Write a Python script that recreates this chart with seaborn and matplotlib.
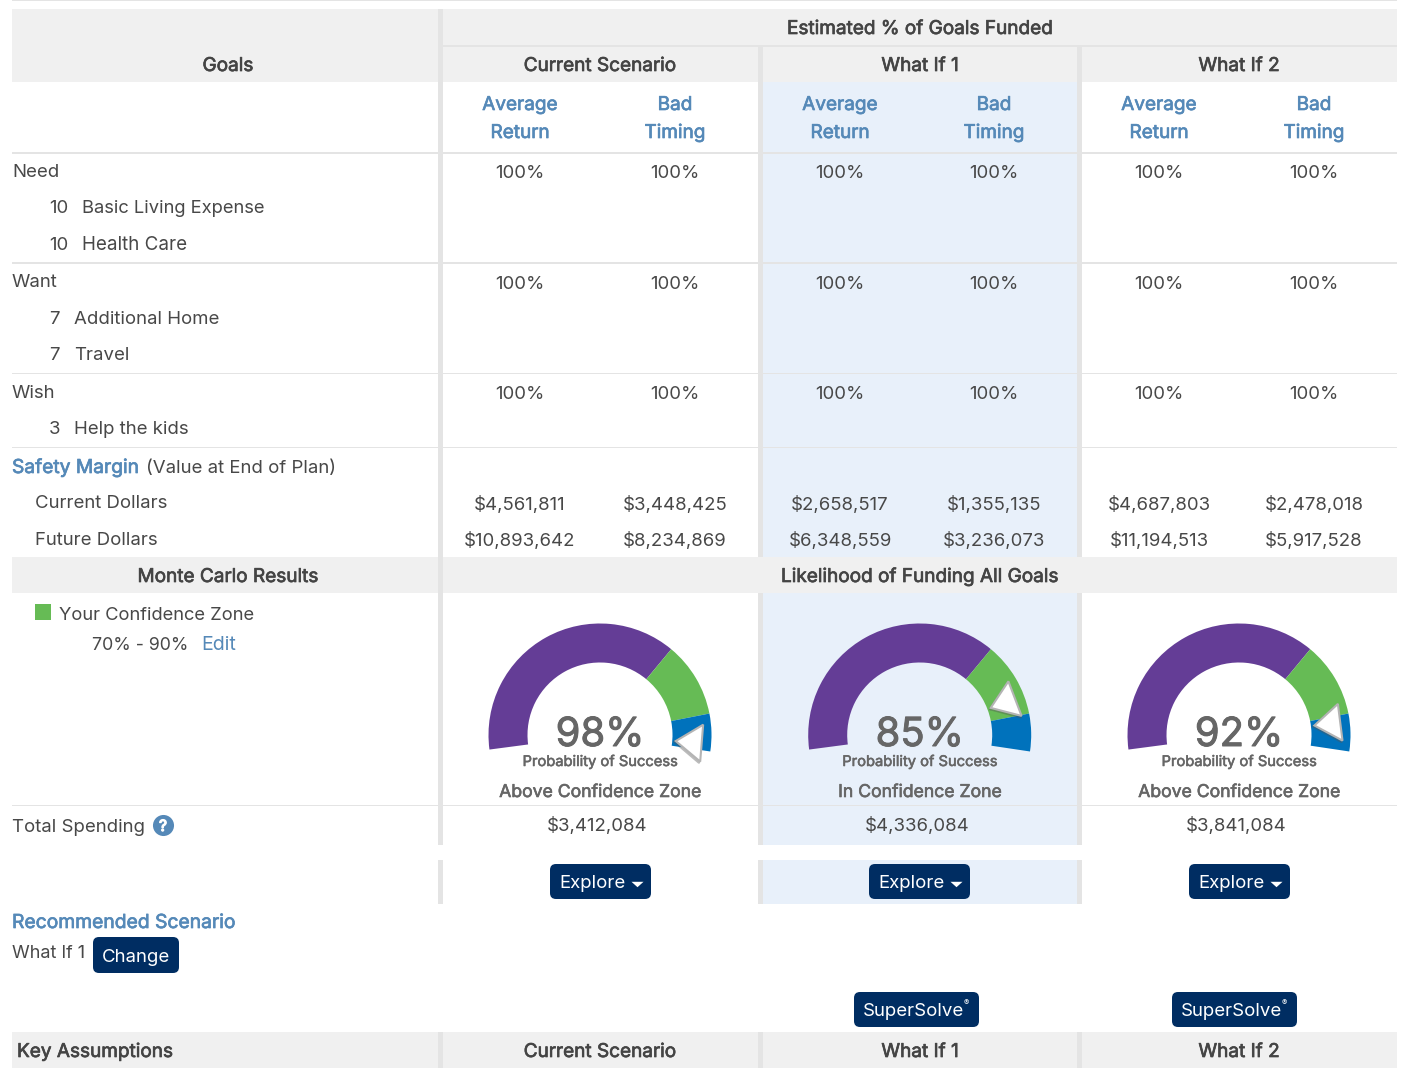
import numpy as np
import matplotlib
matplotlib.use("Agg")
import matplotlib.pyplot as plt
import matplotlib.patheffects as pe
from matplotlib.patches import FancyBboxPatch, Rectangle
import seaborn as sns

# -------------------------------
# Chart values
# -------------------------------
scenarios = ["Current Scenario", "What If 1", "What If 2"]
return_types = [("Average", "Return"), ("Bad", "Timing")]

need_funded = ["100%"] * 6
want_funded = ["100%"] * 6
wish_funded = ["100%"] * 6
current_dollars = ["$4,561,811", "$3,448,425", "$2,658,517", "$1,355,135", "$4,687,803", "$2,478,018"]
future_dollars = ["$10,893,642", "$8,234,869", "$6,348,559", "$3,236,073", "$11,194,513", "$5,917,528"]

probability = [98, 85, 92]
zone_labels = ["Above Confidence Zone", "In Confidence Zone", "Above Confidence Zone"]
total_spending = ["$3,412,084", "$4,336,084", "$3,841,084"]

zone_edges = [0, 70, 90, 100]
zone_colors = sns.color_palette(["#643d96", "#66bb55", "#0072bc"])

# -------------------------------
# Look
# -------------------------------
sns.set_theme(style="white")
plt.rcParams["font.family"] = ["Inter", "DejaVu Sans"]

GREY_BAND = "#f0f0f0"
DIVIDER = "#e4e4e4"
BLUE_BAND = "#e8f0fa"
TEXT = "#484848"
LINK = "#5589b8"
NAVY = "#002d62"
GAUGE_TEXT = "#666666"
PX = 0.72  # px to pt at dpi 100
BODY = 18.6
HEAD = 19.0

col_x = [520, 675, 840, 994, 1159, 1314]
scenario_x = [600, 920, 1239]
gauge_x = [600, 919.7, 1239]
spend_x = [597, 917, 1236]
explore_x = [600.5, 919.5, 1239.5]

fig = plt.figure(figsize=(14.14, 10.78), dpi=100, facecolor="white")
ax = fig.add_axes([0, 0, 1, 1])
ax.set_xlim(0, 1414)
ax.set_ylim(1078, 0)
ax.axis("off")


def txt(x, y, s, size=BODY, color=TEXT, ha="left", stroke=0, zorder=5):
    t = ax.text(x, y, s, fontsize=size * PX, color=color, ha=ha, va="baseline", zorder=zorder)
    # the Inter install only has one weight, so thicken headings with a stroke
    if stroke:
        t.set_path_effects([pe.withStroke(linewidth=stroke, foreground=color)])
    return t


def head(x, y, s, color="#444444", ha="left", size=HEAD):
    return txt(x, y, s, size=size, color=color, ha=ha, stroke=0.5)


def band(x0, x1, y0, y1, color):
    ax.add_patch(Rectangle((x0, y0), x1 - x0, y1 - y0, facecolor=color, edgecolor="none", zorder=1))


def rule(y0, y1, color=DIVIDER, x0=12, x1=1397):
    band(x0, x1, y0, y1, color)


def button(x0, x1, y0, y1, label):
    ax.add_patch(FancyBboxPatch((x0, y0), x1 - x0, y1 - y0, boxstyle="round,pad=0,rounding_size=6",
                                facecolor=NAVY, edgecolor="none", zorder=3))
    ax.text(x0 + 9, (y0 + y1) / 2 + 7, label, fontsize=BODY * PX, color="white",
            ha="left", va="baseline", zorder=4)


# -------------------------------
# Bands and rules
# -------------------------------
rule(0, 1)
band(12, 1397, 9, 82, GREY_BAND)
band(12, 1397, 557, 593, GREY_BAND)
band(12, 1397, 1032, 1068, GREY_BAND)
band(763, 1077, 82, 557, BLUE_BAND)
band(763, 1077, 593, 845, BLUE_BAND)
band(763, 1077, 860, 904, BLUE_BAND)

rule(152, 154)
rule(262, 264)
rule(373, 374)
rule(447, 448)
rule(805, 806)
rule(45, 47, x0=443)

band(438, 443, 9, 845, DIVIDER)
for x0 in (758, 1077):
    band(x0, x0 + 5, 47, 557, DIVIDER)
    band(x0, x0 + 5, 593, 845, DIVIDER)
for x0 in (438, 758, 1077):
    band(x0, x0 + 5, 860, 904, DIVIDER)
    band(x0, x0 + 5, 1032, 1068, DIVIDER)

# -------------------------------
# Header
# -------------------------------
head(920, 34, "Estimated % of Goals Funded", ha="center")
head(228, 71, "Goals", ha="center")
for x, name in zip(scenario_x, scenarios):
    head(x, 71, name, ha="center")

for i, x in enumerate(col_x):
    top, bottom = return_types[i % 2]
    head(x, 110, top, color=LINK, ha="center")
    head(x, 138, bottom, color=LINK, ha="center")

# -------------------------------
# Goal rows
# -------------------------------
txt(12, 177, "Need")
txt(49, 213, "10")
txt(82, 213, "Basic Living Expense", size=18.4)
txt(49, 250, "10")
txt(82, 250, "Health Care", size=18.8)
txt(12, 287, "Want")
txt(49, 324, "7")
txt(74, 324, "Additional Home")
txt(49, 360, "7")
txt(74, 360, "Travel")
txt(12, 398, "Wish")
txt(49, 434, "3")
txt(74, 434, "Help the kids")

for y, row in zip((178, 289, 399), (need_funded, want_funded, wish_funded)):
    for x, v in zip(col_x, row):
        txt(x, y, v, ha="center")

head(12, 473, "Safety Margin", color=LINK, size=19.2)
txt(146, 473, "(Value at End of Plan)")
txt(35, 508, "Current Dollars")
txt(35, 545, "Future Dollars")
for x, v in zip(col_x, current_dollars):
    txt(x, 510, v, ha="center")
for x, v in zip(col_x, future_dollars):
    txt(x, 546, v, ha="center")

# -------------------------------
# Monte Carlo section
# -------------------------------
head(228, 582, "Monte Carlo Results", ha="center")
head(920, 582, "Likelihood of Funding All Goals", ha="center")
band(35, 51, 604, 620, zone_colors[1])
txt(59, 620, "Your Confidence Zone", size=18.4)
txt(92, 650, "70% - 90%", size=17.8)
txt(201, 650, "Edit", color=LINK, size=19.5)

# gauge dial: 0 sits near 187.5 deg, 100 near -8.5 deg
SWEEP = 1.96
OUTER = 111.5
INNER = 72.5
CENTER_Y = 735
for cx, value, label in zip(gauge_x, probability, zone_labels):
    box = 2 * OUTER + 4
    gax = fig.add_axes([(cx - box / 2) / 1414, 1 - (CENTER_Y + box / 2) / 1078, box / 1414, box / 1078],
                       projection="polar")
    gax.set_theta_offset(np.deg2rad(187.5))
    gax.set_theta_direction(-1)
    gax.set_ylim(0, box / 2)
    gax.axis("off")
    gax.patch.set_alpha(0)
    for lo, hi, color in zip(zone_edges[:-1], zone_edges[1:], zone_colors):
        gax.bar(np.deg2rad((lo + hi) / 2 * SWEEP), OUTER - INNER, width=np.deg2rad((hi - lo) * SWEEP),
                bottom=INNER, color=color, linewidth=0)

    # pointer: tip toward the centre, base near the outer edge
    th = np.deg2rad(value * SWEEP)
    spread = np.arctan(18.5 / 102)
    thetas = [th, th - spread, th + spread, th]
    radii = [76, np.hypot(102, 18.5), np.hypot(102, 18.5), 76]
    gax.plot(np.array(thetas) + 0.012, np.array(radii) - 1, color="#555555", lw=1.8, alpha=0.4, zorder=4)
    gax.fill(thetas, radii, facecolor="white", edgecolor="#b4b4b4", lw=1.5, zorder=5)

    txt(cx, 746, f"{value}%", size=40, color=GAUGE_TEXT, ha="center", stroke=0.7, zorder=6)
    txt(cx, 766, "Probability of Success", size=14.7, color=GAUGE_TEXT, ha="center", stroke=0.4)
    txt(cx, 797, label, size=17.6, color=GAUGE_TEXT, ha="center", stroke=0.45)

# -------------------------------
# Total spending and buttons
# -------------------------------
txt(12, 832, "Total Spending")
ax.scatter([163], [825], s=230, color=LINK, linewidth=0, zorder=3)
ax.text(163, 831, "?", fontsize=15.5 * PX, color="white", ha="center", va="baseline", zorder=4,
        path_effects=[pe.withStroke(linewidth=0.9, foreground="white")])
for x, v in zip(spend_x, total_spending):
    txt(x, 831, v, ha="center")

caret = [(-1, 0.45), (1, 0.45), (0, -0.45)]
for cx in explore_x:
    button(cx - 50.5, cx + 50.5, 864, 899, "Explore")
    ax.scatter([cx + 36], [884], marker=caret, s=75, color="white", linewidth=0, zorder=4)

head(12, 928, "Recommended Scenario", color=LINK, size=19.3)
txt(12, 958, "What If 1", size=18)
button(93, 179, 937, 973, "Change")

for x0 in (854, 1172):
    button(x0, x0 + 125, 992, 1027, "SuperSolve")
    ax.text(x0 + 110, 1005, "®", fontsize=8 * PX, color="white", ha="left", va="baseline", zorder=4)

head(17, 1057, "Key Assumptions")
for x, name in zip(scenario_x, scenarios):
    head(x, 1057, name, ha="center")

fig.savefig("out.png", dpi=100)
